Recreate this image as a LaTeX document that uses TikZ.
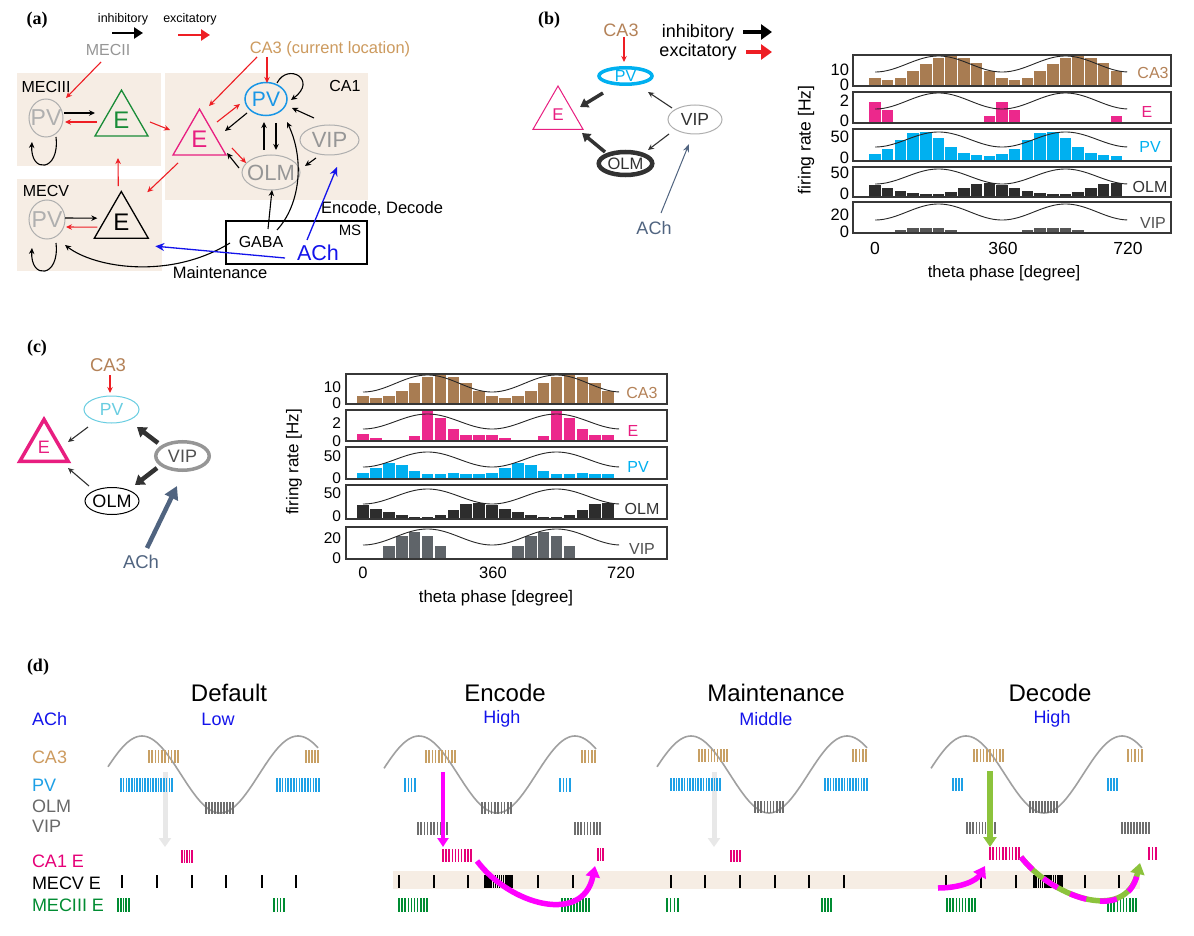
\documentclass[tikz,border=0pt]{standalone}
\usepackage{fontspec}
\setmainfont{Liberation Sans}
\newfontfamily\panelfont{Liberation Serif}
\usetikzlibrary{arrows.meta,shapes.geometric}
\definecolor{beige}{RGB}{246,237,228}
\definecolor{exred}{RGB}{238,30,36}
\definecolor{exgreen}{RGB}{25,140,55}
\definecolor{tanA}{RGB}{205,155,95}
\definecolor{tanB}{RGB}{180,130,88}
\definecolor{barbrown}{RGB}{168,124,82}
\definecolor{pinkE}{RGB}{232,30,128}
\definecolor{pinkBar}{RGB}{236,40,140}
\definecolor{bluePV}{RGB}{25,150,230}
\definecolor{cyanPV}{RGB}{0,176,240}
\definecolor{lcyan}{RGB}{105,205,225}
\definecolor{grayL}{RGB}{175,175,175}
\definecolor{grayT}{RGB}{150,150,150}
\definecolor{achblue}{RGB}{20,20,235}
\definecolor{slate}{RGB}{80,100,128}
\definecolor{darkN}{RGB}{50,50,50}
\definecolor{olmbar}{RGB}{45,45,45}
\definecolor{vipbarb}{RGB}{85,85,85}
\definecolor{vipbarc}{RGB}{95,100,105}
\definecolor{boxline}{RGB}{55,55,55}
\definecolor{spkCA3}{RGB}{200,160,100}
\definecolor{spkPV}{RGB}{30,160,230}
\definecolor{spkG}{RGB}{110,110,110}
\definecolor{spkE}{RGB}{230,0,120}
\definecolor{spkM3}{RGB}{0,140,50}
\definecolor{magA}{RGB}{255,0,255}
\definecolor{lgreen}{RGB}{140,195,60}
\definecolor{paleG}{RGB}{232,232,232}
\definecolor{sineG}{RGB}{160,160,160}
\definecolor{textG}{RGB}{105,105,105}
\newcommand{\myfs}[1]{\fontsize{#1}{#1}\selectfont}
\newcommand{\myBars}[5]{%
  \foreach \hh [count=\ii from 0] in {#5}{%
    \fill[#4] ({#1+\ii*#2-0.45*#2},#3) rectangle ++({0.9*#2},{-\hh});}}
\newcommand{\mySine}[4]{%
  \draw[sineline] plot[domain=0:715,samples=120] ({#1+\x*#2/36},{#3+#4*cos(\x)});}
\newcommand{\mySpk}[6]{%
  \foreach \kk in {1,...,#5}{%
    \draw[#6,line width=1.6pt] ({#1+(\kk-1)*(#2-#1)/(#5-1)},#3) -- ({#1+(\kk-1)*(#2-#1)/(#5-1)},#4);}}
\begin{document}
\begin{tikzpicture}[x=1pt,y=-1pt,
 txt/.style={inner sep=1pt,outer sep=0pt},
 plab/.style={inner sep=0pt,font=\panelfont\bfseries\myfs{18}},
 ell/.style={shape=ellipse,inner sep=0pt,outer sep=0pt},
 tri/.style={shape=regular polygon,regular polygon sides=3,inner sep=0pt,outer sep=0pt},
 inh/.style={draw=black,line width=1.1pt,-{Stealth[length=6pt,width=5.5pt]}},
 exc/.style={draw=exred,line width=1.1pt,-{Stealth[length=6pt,width=5.5pt]}},
 legA/.style={line width=2.6pt,-{Triangle[length=9pt,width=11pt]}},
 legB/.style={line width=3.6pt,-{Triangle[length=11pt,width=15pt]}},
 achA/.style={draw=achblue,line width=1.3pt,-{Stealth[length=9pt,width=8pt]}},
 thickB/.style={draw=darkN,line width=3.5pt,-{Triangle[length=8pt,width=10pt]}},
 thickC/.style={draw=darkN,line width=4.5pt,-{Triangle[length=9pt,width=12pt]}},
 achC/.style={draw=slate,line width=4.5pt,-{Triangle[length=13pt,width=14pt]}},
 thinB/.style={draw=darkN,line width=1.1pt,-{Stealth[length=6pt,width=5.5pt]}},
 boxln/.style={draw=boxline,line width=1.8pt},
 sineline/.style={draw=black!85,line width=0.9pt},
 dsine/.style={draw=sineG,line width=1.6pt},
 pale/.style={draw=paleG,line width=5pt,-{Triangle[length=9pt,width=12pt]}},
 magarr/.style={draw=magA,line width=4pt,-{Triangle[length=9pt,width=11pt]}},
 grnarr/.style={draw=lgreen,line width=5.5pt,-{Triangle[length=10pt,width=13pt]}},
 magcurve/.style={draw=magA,line width=5.5pt,-{Triangle[length=11pt,width=14pt]}},
]
\useasboundingbox (0,0) rectangle (1194,936);
\fill[white] (0,0) rectangle (1194,936);
% ================= (a) =================
\node[plab] (la) at (37,20) {(a)};
\node[txt,font=\myfs{12.5}] (inhA) at (123,19) {inhibitory};
\node[txt,font=\myfs{12.5}] (excA) at (190,19) {excitatory};
\draw[legA,draw=black] ([shift={(-11,14)}]inhA.center) -- ([shift={(20,14)}]inhA.center);
\draw[legA,draw=exred] ([shift={(-12,16)}]excA.center) -- ([shift={(20,16)}]excA.center);
\fill[beige] (17,73) rectangle (161,166);
\fill[beige] (17,179) rectangle (162,271);
\fill[beige] (165,73) rectangle (368,200);
\node[txt,font=\myfs{16},text=grayT] (mecii) at (108,50) {MECII};
\node[txt,font=\myfs{16}] (mecTlab) at (46,87) {MECIII};
\node[txt,font=\myfs{16}] (mecVlab) at (46,191) {MECV};
\node[txt,font=\myfs{16}] (ca1lab) at (345,86) {CA1};
\node[txt,font=\myfs{16.5},text=tanA] (ca3a) at (330,49) {CA3 (current location)};
\node[ell,draw=grayL,line width=1pt,minimum width=34pt,minimum height=38pt,label={[txt,text=grayL,font=\myfs{23}]center:PV}] (pv3) at (46,118) {};
\node[ell,draw=grayL,line width=1pt,minimum width=36pt,minimum height=39pt,label={[txt,text=grayL,font=\myfs{23}]center:PV}] (pv5) at (47,219.5) {};
\node[tri,draw=exgreen,line width=1.3pt,minimum size=61.2pt,label={[txt,text=exgreen,font=\myfs{24}]center:E}] (e3) at (121.5,120.7) {};
\node[tri,draw=black,line width=1.3pt,minimum size=62.4pt,label={[txt,font=\myfs{24}]center:E}] (e5) at (121.3,222.7) {};
\node[tri,draw=pinkE,line width=1.3pt,minimum size=61.2pt,label={[txt,text=pinkE,font=\myfs{24}]center:E}] (eC) at (199.5,139.7) {};
\node[ell,draw=bluePV,line width=1.5pt,minimum width=42pt,minimum height=33pt,label={[txt,text=bluePV,font=\myfs{21}]center:PV}] (pvC) at (266,99) {};
\node[ell,draw=grayL,line width=1pt,minimum width=58pt,minimum height=35pt,label={[txt,text=grayT,font=\myfs{22}]center:OLM}] (olm) at (271,172.5) {};
\node[ell,draw=grayL,line width=1pt,minimum width=59pt,minimum height=30pt,label={[txt,text=grayT,font=\myfs{22}]center:VIP}] (vip) at (329.5,140) {};
\node[draw,line width=1.2pt,minimum width=141pt,minimum height=43pt,inner sep=0pt,fill=white] (ms) at (296.5,242.5) {};
\node[txt,font=\myfs{15}] (mslab) at (350,230) {MS};
\node[txt,font=\myfs{16}] (gaba) at (261,242) {GABA};
\node[txt,font=\myfs{21.5},text=achblue] (ach) at (318,253) {ACh};
\node[txt,font=\myfs{16.5}] (encdec) at (382,209) {Encode, Decode};
\node[txt,font=\myfs{16.5}] (maint) at (220,273) {Maintenance};
\draw[exc] ([shift={(-7,12)}]mecii.center) -- ([shift={(20,-20)}]pv3.center);
\draw[inh] ([shift={(18,-5)}]pv3.center) -- ([shift={(-26.5,-7.7)}]e3.center);
\draw[exc] ([shift={(-24.5,1.3)}]e3.center) -- ([shift={(19,4)}]pv3.center);
\draw[inh] ([shift={(18,-1.5)}]pv5.center) -- ([shift={(-24,-4.5)}]e5.center);
\draw[exc] ([shift={(-24,4.5)}]e5.center) -- ([shift={(19,7.5)}]pv5.center);
\draw[inh] ([shift={(10,19)}]pv3.center) .. controls +(4,35) and +(-2,32) .. ([shift={(-14,24)}]pv3.center);
\draw[inh] ([shift={(9,23.5)}]pv5.center) .. controls +(4,35) and +(-2,32) .. ([shift={(-15,28.5)}]pv5.center);
\draw[exc] ([shift={(28.5,1.3)}]e3.center) -- ([shift={(-29.5,-9.7)}]eC.center);
\draw[exc] ([shift={(-3,-36.5)}]e5.center) -- ([shift={(-3.5,37.3)}]e3.center);
\draw[exc] ([shift={(-21.5,23.3)}]eC.center) -- ([shift={(26,-30.5)}]e5.center);
\draw[exc] ([shift={(-73,8)}]ca3a.center) -- ([shift={(9.5,-33.7)}]eC.center);
\draw[exc] ([shift={(-63,8)}]ca3a.center) -- ([shift={(1,-16)}]pvC.center);
\draw[inh] ([shift={(11,-16)}]pvC.center) .. controls +(11,-21) and +(27,-20) .. ([shift={(25,1)}]pvC.center);
\draw[exc] ([shift={(17.5,-17.7)}]eC.center) -- ([shift={(-26,5)}]pvC.center);
\draw[inh] ([shift={(-19,14)}]pvC.center) -- ([shift={(25.5,-8.7)}]eC.center);
\draw[exc] ([shift={(32.5,8.3)}]eC.center) -- ([shift={(-25,-9.5)}]olm.center);
\draw[inh] ([shift={(-32,-4.5)}]olm.center) -- ([shift={(27.5,13.3)}]eC.center);
\draw[inh] ([shift={(-7,-22.5)}]olm.center) -- ([shift={(-2,23)}]pvC.center);
\draw[inh] ([shift={(10,24)}]pvC.center) -- ([shift={(5,-22.5)}]olm.center);
\draw[inh] ([shift={(-15.5,-22)}]vip.center) -- ([shift={(26,9)}]pvC.center);
\draw[inh] ([shift={(-13.5,18)}]vip.center) -- ([shift={(34,-6.5)}]olm.center);
\draw[inh] ([shift={(7,-13)}]gaba.center) -- ([shift={(1,17.5)}]olm.center);
\draw[inh] ([shift={(16,-12)}]gaba.center) .. controls +(23,-25) and +(18,38) .. ([shift={(21,23)}]pvC.center);
\draw[inh] ([shift={(-31,1)}]gaba.center) .. controls +(-60,37) and +(30,23) .. ([shift={(18,25.5)}]pv5.center);
\draw[achA] ([shift={(-33,5)}]ach.center) -- ([shift={(34,23.5)}]e5.center);
\draw[achA] ([shift={(-11,-13)}]ach.center) -- ([shift={(7.5,27)}]vip.center);
% ================= (b) =================
\node[plab] (lb) at (549,20) {(b)};
\node[txt,font=\myfs{18},text=tanB] (ca3b) at (621,30) {CA3};
\node[txt,font=\myfs{18}] (inhB) at (698,33) {inhibitory};
\node[txt,font=\myfs{18}] (excB) at (698,52) {excitatory};
\draw[legB,draw=black] ([shift={(45,-1)}]inhB.center) -- ([shift={(74,-1)}]inhB.center);
\draw[legB,draw=exred] ([shift={(48,0)}]excB.center) -- ([shift={(74,0)}]excB.center);
\node[ell,draw=cyanPV,line width=3.5pt,minimum width=53pt,minimum height=16.5pt,label={[txt,text=cyanPV,font=\myfs{16}]center:PV}] (pvb) at (625.5,76) {};
\node[tri,draw=pinkE,line width=1pt,minimum size=58pt,label={[txt,text=pinkE,font=\myfs{17}]center:E}] (eb) at (558,115) {};
\node[ell,draw=grayL,line width=1pt,minimum width=54pt,minimum height=29pt,label={[txt,text=darkN,font=\myfs{17.5}]center:VIP}] (vipb) at (695,119.5) {};
\node[ell,draw=darkN,line width=4.5pt,minimum width=53.5pt,minimum height=23pt,label={[txt,text=darkN,font=\myfs{16.5}]center:OLM}] (olmb) at (625.5,163.5) {};
\node[txt,font=\myfs{18},text=slate] (achb) at (654,228) {ACh};
\draw[exc,line width=1.3pt] ([shift={(3,7)}]ca3b.center) -- ([shift={(-1.5,-14)}]pvb.center);
\draw[thickB] ([shift={(-22.5,17)}]pvb.center) -- ([shift={(22,-8)}]eb.center);
\draw[thickB] ([shift={(-20.5,-11.5)}]olmb.center) -- ([shift={(24,18)}]eb.center);
\draw[thinB] ([shift={(-23,-11.5)}]vipb.center) -- ([shift={(22.5,16)}]pvb.center);
\draw[thinB] ([shift={(-26,14.5)}]vipb.center) -- ([shift={(22.5,-13.5)}]olmb.center);
\draw[draw=slate,line width=1pt,-{Stealth[length=8pt,width=6pt]}] ([shift={(7,-15)}]achb.center) -- ([shift={(-6,24.5)}]vipb.center);
% chart (b)
\node[txt,font=\myfs{17.5},rotate=90] (ylb) at (806,140) {firing rate [Hz]};
\myBars{875}{12.7}{85}{barbrown}{7,5,7,14,21,27,29,27,22,14,7,5,7,14,21,27,29,27,22,14}
\myBars{875}{12.7}{122}{pinkBar}{20,12,0,0,0,0,0,0,0,6,20,12,0,0,0,0,0,0,0,6}
\myBars{875}{12.7}{160}{cyanPV}{6,11,20,27,28,22,13,7,5,4,6,11,20,27,28,22,13,7,5,4}
\myBars{875}{12.7}{196}{olmbar}{11,8,5,3,2,2,4,8,12,13,11,8,5,3,2,2,4,8,12,13}
\myBars{875}{12.7}{232}{vipbarb}{0,0,2,4,4,4,2,0,0,0,0,0,2,4,4,4,2,0,0,0}
\mySine{875}{12.7}{64}{8}
\mySine{875}{12.7}{101}{8}
\mySine{875}{12.7}{139.5}{7.5}
\mySine{875}{12.7}{176.5}{7.5}
\mySine{875}{12.7}{212}{8}
\foreach \tp/\bt in {55/86,92/123,129/161,167/197,202/233} \draw[boxln] (853,\tp) rectangle (1171,\bt);
\node[txt,font=\myfs{16},text=tanB] (rb1) at (1153,73) {CA3};
\node[txt,font=\myfs{16},text=pinkE] (rb2) at (1147,112) {E};
\node[txt,font=\myfs{16},text=cyanPV] (rb3) at (1150,147) {PV};
\node[txt,font=\myfs{16},text=darkN] (rb4) at (1150,187) {OLM};
\node[txt,font=\myfs{16},text=darkN!85] (rb5) at (1153,223) {VIP};
\foreach \yy/\tt in {70/10,85/0,101/2,121/0,137/50,158/0,173/50,194/0,215/20,232/0}
  \node[txt,font=\myfs{16.5},anchor=east] at (850,\yy) {\tt};
\node[txt,font=\myfs{17.5}] (xb0) at (875,248) {0};
\node[txt,font=\myfs{17.5}] (xb1) at (1003,248) {360};
\node[txt,font=\myfs{17.5}] (xb2) at (1128,248) {720};
\node[txt,font=\myfs{16.6}] (xlb) at (1004,273) {theta phase [degree]};
% ================= (c) =================
\node[plab] (lc) at (37,348) {(c)};
\node[txt,font=\myfs{18.5},text=tanB] (ca3c) at (108,365) {CA3};
\node[ell,draw=lcyan,line width=1pt,minimum width=55pt,minimum height=27pt,label={[txt,text=lcyan,font=\myfs{17.5}]center:PV}] (pvc) at (111.5,409.5) {};
\node[tri,draw=pinkE,line width=3.5pt,minimum size=56pt,label={[txt,text=pinkE,font=\myfs{18}]center:E}] (ec) at (44,447.4) {};
\node[ell,draw=grayT,line width=3.5pt,minimum width=53.5pt,minimum height=28.5pt,label={[txt,text=darkN!85,font=\myfs{18}]center:VIP}] (vipc) at (182.5,456) {};
\node[ell,draw=black,line width=1pt,minimum width=54pt,minimum height=27pt,label={[txt,font=\myfs{18}]center:OLM}] (olmc) at (112,501) {};
\node[txt,font=\myfs{18.5},text=slate] (achc) at (141,562) {ACh};
\draw[exc,line width=1.3pt] ([shift={(2,10)}]ca3c.center) -- ([shift={(-1.5,-16.5)}]pvc.center);
\draw[thinB] ([shift={(-23.5,17.5)}]pvc.center) -- ([shift={(24,-5.4)}]ec.center);
\draw[thinB] ([shift={(-23,-15)}]olmc.center) -- ([shift={(24,20.6)}]ec.center);
\draw[thickC] ([shift={(-24.5,-13)}]vipc.center) -- ([shift={(25.5,17.5)}]pvc.center);
\draw[thickC] ([shift={(-25.5,12)}]vipc.center) -- ([shift={(23,-16)}]olmc.center);
\draw[achC] ([shift={(6,-14)}]achc.center) -- ([shift={(-5.5,30)}]vipc.center);
% chart (c)
\node[txt,font=\myfs{17},rotate=90] (ylc) at (294,462) {firing rate [Hz]};
\myBars{363}{12.9}{403}{barbrown}{7,5,7,12,20,26,29,26,20,12,7,5,7,12,20,26,29,26,20,12}
\myBars{363}{12.9}{440}{pinkBar}{6,2,0,0,4,29,22,11,5,5,5,2,0,0,4,29,22,11,5,5}
\myBars{363}{12.9}{478}{cyanPV}{5,10,15,13,7,4,4,5,4,4,5,10,15,13,7,4,4,5,4,4}
\myBars{363}{12.9}{518}{olmbar}{13,9,6,3,1,1,3,8,14,15,13,9,6,3,1,1,3,8,14,15}
\myBars{363}{12.9}{558}{vipbarc}{0,0,12,22,26,22,12,0,0,0,0,0,12,22,26,22,12,0,0,0}
\mySine{363}{12.9}{383.5}{8.5}
\mySine{363}{12.9}{421.5}{7.5}
\mySine{363}{12.9}{459.5}{7.5}
\mySine{363}{12.9}{496.5}{7.5}
\mySine{363}{12.9}{537}{8}
\foreach \tp/\bt in {374/404,410/441,447/479,485/519,527/559} \draw[boxln] (346,\tp) rectangle (667,\bt);
\node[txt,font=\myfs{16},text=tanB] (rc1) at (642,393) {CA3};
\node[txt,font=\myfs{16},text=pinkE] (rc2) at (633,431) {E};
\node[txt,font=\myfs{16},text=cyanPV] (rc3) at (638,467) {PV};
\node[txt,font=\myfs{16},text=darkN] (rc4) at (642,509) {OLM};
\node[txt,font=\myfs{16},text=darkN!85] (rc5) at (642,549) {VIP};
\foreach \yy/\tt in {387/10,403/0,423/2,441/0,456/50,478/0,493/50,516/0,538/20,558/0}
  \node[txt,font=\myfs{15.5},anchor=east] at (342,\yy) {\tt};
\node[txt,font=\myfs{16.5}] (xc0) at (363,573) {0};
\node[txt,font=\myfs{16.5}] (xc1) at (493,573) {360};
\node[txt,font=\myfs{16.5}] (xc2) at (621,573) {720};
\node[txt,font=\myfs{16.8}] (xlc) at (496,598) {theta phase [degree]};
% ================= (d) =================
\node[plab] (ld) at (38,667) {(d)};
\node[txt,font=\myfs{24}] (tDef) at (229,693) {Default};
\node[txt,font=\myfs{18},text=achblue] (lvDef) at (218,719) {Low};
\node[txt,font=\myfs{24}] (tEnc) at (505,693) {Encode};
\node[txt,font=\myfs{18},text=achblue] (lvEnc) at (502,719) {High};
\node[txt,font=\myfs{24}] (tMain) at (776,693) {Maintenance};
\node[txt,font=\myfs{18},text=achblue] (lvMain) at (766,719) {Middle};
\node[txt,font=\myfs{24}] (tDec) at (1050,693) {Decode};
\node[txt,font=\myfs{18},text=achblue] (lvDec) at (1052,719) {High};
\node[txt,font=\myfs{18},text=achblue,anchor=west] (rACh) at (31,719) {ACh};
\node[txt,font=\myfs{18},text=tanA,anchor=west] (rCA3) at (31,757) {CA3};
\node[txt,font=\myfs{18},text=spkPV,anchor=west] (rPV) at (31,785) {PV};
\node[txt,font=\myfs{18},text=textG,anchor=west] (rOLM) at (31,806) {OLM};
\node[txt,font=\myfs{18},text=textG,anchor=west] (rVIP) at (31,826) {VIP};
\node[txt,font=\myfs{18},text=spkE,anchor=west] (rCA1) at (31,861) {CA1 E};
\node[txt,font=\myfs{18},anchor=west] (rMV) at (31,883) {MECV E};
\node[txt,font=\myfs{18},text=spkM3,anchor=west] (rM3) at (31,905) {MECIII E};
% sines
\draw[dsine] plot[domain=108:318,samples=100] (\x,{774.5-38.5*cos((\x-142)*2.30769)});
\draw[dsine] plot[domain=384:596,samples=100] (\x,{774.5-38.5*cos((\x-419)*2.30769)});
\draw[dsine] plot[domain=657:867,samples=100] (\x,{774.5-38.5*cos((\x-691)*2.30769)});
\draw[dsine] plot[domain=931:1142,samples=100] (\x,{774.5-38.5*cos((\x-966)*2.30769)});
% MECV band
\fill[beige] (393,871) rectangle (1140,889);
% pale arrows (Default, Maintenance)
\coordinate (pDs) at (165,772); \coordinate (pDe) at (165,847);
\coordinate (pMs) at (714,772); \coordinate (pMe) at (714,847);
\draw[pale] (pDs) -- (pDe);
\draw[pale] (pMs) -- (pMe);
% Default spikes
\mySpk{149}{178}{750}{763}{10}{spkCA3}
\mySpk{306}{318}{750}{763}{5}{spkCA3}
\mySpk{121}{172}{778}{792}{20}{spkPV}
\mySpk{277}{319}{778}{792}{16}{spkPV}
\mySpk{206}{233}{802}{814}{10}{spkG}
\mySpk{182}{192}{850}{863}{5}{spkE}
\foreach \xx in {122,157,192,226,262,296} \draw[line width=1.8pt] (\xx,875) -- (\xx,888);
\mySpk{118}{129}{898}{912}{5}{spkM3}
\mySpk{274}{284}{898}{912}{4}{spkM3}
% Encode spikes
\mySpk{426}{455}{750}{763}{10}{spkCA3}
\mySpk{582}{595}{750}{763}{5}{spkCA3}
\mySpk{405}{415}{778}{792}{4}{spkPV}
\mySpk{560}{570}{778}{792}{4}{spkPV}
\mySpk{482}{511}{802}{814}{10}{spkG}
\mySpk{418}{447}{822}{835}{10}{spkG}
\mySpk{575}{600}{822}{835}{9}{spkG}
\mySpk{443}{471}{849}{862}{10}{spkE}
\mySpk{598}{603}{848}{861}{3}{spkE}
\foreach \xx in {399,434,468,538,573} \draw[line width=1.8pt] (\xx,875) -- (\xx,888);
\mySpk{485}{512}{875}{888}{14}{black}
\mySpk{399}{427}{898}{912}{10}{spkM3}
\mySpk{562}{589}{898}{912}{10}{spkM3}
% Maintenance spikes
\mySpk{699}{727}{749}{762}{10}{spkCA3}
\mySpk{853}{866}{749}{762}{5}{spkCA3}
\mySpk{671}{720}{778}{791}{19}{spkPV}
\mySpk{825}{867}{778}{791}{16}{spkPV}
\mySpk{755}{783}{801}{813}{10}{spkG}
\mySpk{731}{740}{850}{862}{4}{spkE}
\foreach \xx in {671,705,740,775,809,844} \draw[line width=1.8pt] (\xx,875) -- (\xx,888);
\mySpk{667}{678}{898}{912}{4}{spkM3}
\mySpk{822}{831}{898}{912}{4}{spkM3}
% Decode spikes
\mySpk{974}{1003}{749}{762}{10}{spkCA3}
\mySpk{1128}{1142}{749}{762}{5}{spkCA3}
\mySpk{953}{962}{778}{791}{4}{spkPV}
\mySpk{1108}{1117}{778}{791}{4}{spkPV}
\mySpk{1030}{1057}{801}{813}{10}{spkG}
\mySpk{967}{995}{822}{834}{10}{spkG}
\mySpk{1122}{1149}{822}{834}{10}{spkG}
\mySpk{990}{1019}{847}{860}{10}{spkE}
\mySpk{1149}{1156}{847}{860}{3}{spkE}
\foreach \xx in {946,981,1016,1085,1119} \draw[line width=1.8pt] (\xx,875) -- (\xx,888);
\mySpk{1034}{1062}{875}{888}{14}{black}
\mySpk{947}{975}{898}{912}{10}{spkM3}
\mySpk{1108}{1136}{898}{912}{10}{spkM3}
% (d) arrows
\coordinate (eVs) at (443,772); \coordinate (eVe) at (443,847);
\coordinate (dVs) at (990,771); \coordinate (dVe) at (990,847);
\coordinate (eCs) at (477,861); \coordinate (eCe) at (595,866);
\coordinate (dIs) at (938,888); \coordinate (dIe) at (985,866);
\coordinate (dCs) at (1021,857); \coordinate (dCe) at (1140,863);
\draw[magarr] (eVs) -- (eVe);
\draw[grnarr] (dVs) -- (dVe);
\draw[magcurve] (eCs) .. controls (510,905) and (583,925) .. (eCe);
\draw[magcurve] (dIs) .. controls (962,888) and (977,880) .. (dIe);
\draw[magcurve,draw=lgreen] (dCs) .. controls (1050,895) and (1125,925) .. (dCe);
\draw[draw=magA,line width=5.5pt,dash pattern=on 17pt off 14pt,shorten >=12pt] (dCs) .. controls (1050,895) and (1125,925) .. (dCe);
\end{tikzpicture}
\end{document}
